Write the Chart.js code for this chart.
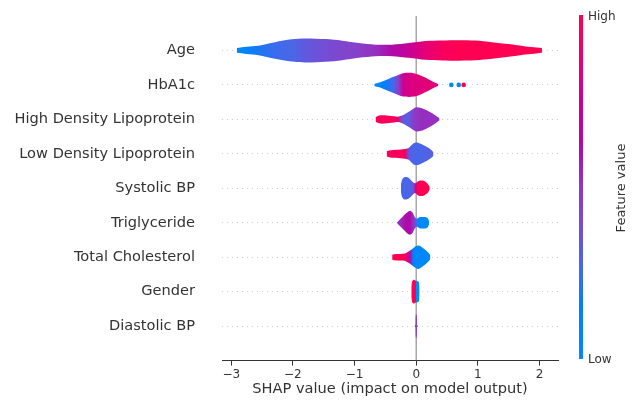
<!DOCTYPE html>
<html lang="en">
<head>
  <meta charset="UTF-8" />
  <title>SHAP violin summary</title>
  <script src="https://cdn.jsdelivr.net/npm/chart.js"></script>
  <style>
    html, body { margin: 0; padding: 0; background: #fff; }
    #wrap { width: 634px; height: 402px; }
  </style>
</head>
<body>
  <div id="wrap"><canvas id="shapChart" width="634" height="402"></canvas></div>

  <script>
    // features, top to bottom
    const features = ['Age', 'HbA1c', 'High Density Lipoprotein', 'Low Density Lipoprotein',
      'Systolic BP', 'Triglyceride', 'Total Cholesterol', 'Gender', 'Diastolic BP'];

    // violin profiles: [shap value, relative density, mean feature value 0..1]
    const ageViolin = [[-2.91, 0.2, 0.02], [-2.75, 0.3, 0.1], [-2.56, 0.39, 0.2], [-2.29, 0.69, 0.25],
      [-2.02, 0.92, 0.28], [-1.8, 1.0, 0.33], [-1.47, 0.94, 0.38], [-1.2, 0.81, 0.42], [-0.93, 0.61, 0.45],
      [-0.66, 0.48, 0.52], [-0.39, 0.48, 0.62], [-0.12, 0.61, 0.72], [0.15, 0.78, 0.85], [0.42, 0.83, 0.95],
      [0.69, 0.85, 1], [0.96, 0.82, 1], [1.23, 0.69, 1], [1.5, 0.53, 1], [1.77, 0.33, 1], [1.95, 0.25, 1],
      [2.04, 0.2, 1]];
    const hba1cViolin = [[-0.68, 0.08, 0.03], [-0.6, 0.2, 0.05], [-0.53, 0.33, 0.12], [-0.45, 0.5, 0.2],
      [-0.37, 0.67, 0.27], [-0.29, 0.83, 0.45], [-0.21, 0.97, 0.75], [-0.12, 1.0, 0.8], [-0.04, 0.97, 0.82],
      [0.04, 0.85, 0.83], [0.12, 0.67, 0.84], [0.19, 0.5, 0.85], [0.25, 0.33, 0.85], [0.31, 0.18, 0.85],
      [0.36, 0.06, 0.85]];
    const hdlViolin = [[-0.66, 0.2, 0.97], [-0.6, 0.33, 0.97], [-0.52, 0.35, 0.97], [-0.44, 0.3, 0.97],
      [-0.36, 0.25, 0.95], [-0.3, 0.22, 0.9], [-0.24, 0.3, 0.4], [-0.18, 0.45, 0.3], [-0.1, 0.7, 0.35],
      [-0.04, 0.9, 0.47], [0.0, 1.0, 0.5], [0.08, 0.95, 0.52], [0.17, 0.75, 0.52], [0.26, 0.5, 0.52],
      [0.33, 0.25, 0.52], [0.38, 0.08, 0.52]];
    const ldlViolin = [[-0.48, 0.22, 0.97], [-0.42, 0.3, 0.97], [-0.33, 0.33, 0.97], [-0.25, 0.37, 0.97],
      [-0.18, 0.4, 0.92], [-0.12, 0.5, 0.35], [-0.07, 0.75, 0.28], [-0.02, 0.92, 0.28], [0.04, 0.9, 0.28],
      [0.12, 0.72, 0.29], [0.2, 0.5, 0.3], [0.25, 0.3, 0.3], [0.28, 0.15, 0.3]];
    const systolicViolin = [[-0.25, 0.25, 0.28], [-0.23, 0.7, 0.28], [-0.2, 0.9, 0.28], [-0.16, 0.93, 0.28],
      [-0.12, 0.85, 0.28], [-0.08, 0.65, 0.3], [-0.04, 0.45, 0.4], [-0.01, 0.42, 0.7], [0.02, 0.55, 1],
      [0.06, 0.64, 1], [0.12, 0.62, 1], [0.17, 0.46, 1], [0.2, 0.28, 1], [0.22, 0.1, 1]];
    const trigViolin = [[-0.31, 0.05, 0.5], [-0.27, 0.25, 0.52], [-0.22, 0.5, 0.56], [-0.16, 0.8, 0.62],
      [-0.1, 1.0, 0.63], [-0.06, 0.85, 0.52], [-0.03, 0.55, 0.47], [0.0, 0.35, 0.3], [0.02, 0.35, 0.03],
      [0.05, 0.45, 0.02], [0.1, 0.47, 0.02], [0.15, 0.47, 0.02], [0.19, 0.35, 0.02], [0.21, 0.1, 0.02]];
    const cholViolin = [[-0.39, 0.2, 1], [-0.33, 0.27, 1], [-0.25, 0.27, 1], [-0.19, 0.3, 0.98],
      [-0.15, 0.4, 0.85], [-0.1, 0.55, 0.62], [-0.05, 0.75, 0.12], [0.0, 0.92, 0.03], [0.04, 0.97, 0.03],
      [0.1, 0.8, 0.03], [0.16, 0.55, 0.03], [0.21, 0.3, 0.03], [0.23, 0.12, 0.03]];
    const genderViolin = [[-0.08, 0.3, 1], [-0.075, 0.65, 1], [-0.065, 0.85, 1], [-0.05, 0.97, 1],
      [-0.03, 0.97, 1], [-0.015, 0.92, 1], [-0.004, 0.9, 1], [0.004, 0.9, 0.02], [0.015, 0.88, 0.02],
      [0.035, 0.85, 0.02], [0.048, 0.7, 0.02], [0.055, 0.3, 0.02]];
    const diastolicViolin = [[-0.015, 0.1, 0.42], [-0.008, 0.95, 0.42], [0.008, 0.95, 0.42], [0.015, 0.1, 0.42]];
    const diastolicHigh = [[-0.025, 0.08, 1], [0.025, 0.08, 1]];
    const violins = [ageViolin, hba1cViolin, hdlViolin, ldlViolin, systolicViolin, trigViolin,
      cholViolin, genderViolin, diastolicViolin];

    // HbA1c outlier points: [shap value, feature value]
    const hba1cOutliers = [[0.57, 0.02], [0.69, 0.04], [0.77, 1]];

    const xTicks = [-3, -2, -1, 0, 1, 2];

    // shap red_blue colormap, approximated
    const cmap = [[0.0, [0, 138, 251]], [0.15, [0, 128, 248]], [0.27, [70, 104, 234]], [0.4, [125, 72, 208]],
      [0.5, [145, 55, 195]], [0.62, [175, 10, 168]], [0.75, [205, 0, 145]], [0.88, [235, 0, 110]],
      [1.0, [255, 0, 82]]];

    function colorAt(t) {
      t = Math.max(0, Math.min(1, t));
      for (let i = 1; i < cmap.length; i++) {
        if (t <= cmap[i][0]) {
          const [t0, c0] = cmap[i - 1], [t1, c1] = cmap[i];
          const f = (t - t0) / (t1 - t0);
          const c = c0.map((v, k) => Math.round(v + (c1[k] - v) * f));
          return `rgb(${c[0]},${c[1]},${c[2]})`;
        }
      }
      return 'rgb(255,0,82)';
    }

    const maxHalf = 0.35;

    function violinFill(points) {
      return (ctx) => {
        const chart = ctx.chart;
        const xs = chart.scales.x;
        if (!chart.chartArea || !xs) return 'rgba(0,0,0,0)';
        const x0 = xs.getPixelForValue(points[0][0]);
        const x1 = xs.getPixelForValue(points[points.length - 1][0]);
        const g = chart.ctx.createLinearGradient(x0, 0, x1, 0);
        points.forEach(p => g.addColorStop((xs.getPixelForValue(p[0]) - x0) / (x1 - x0), colorAt(p[2])));
        return g;
      };
    }

    const datasets = [{
      // zero line behind everything
      data: [{ x: 0, y: -1 }, { x: 0, y: 9 }],
      showLine: true, pointRadius: 0, borderColor: '#999999', borderWidth: 1.3, fill: false, order: 20
    }];

    function addViolin(points, row) {
      const common = { showLine: true, pointRadius: 0, borderWidth: 0, borderColor: 'rgba(0,0,0,0)', tension: 0.3, order: 5 };
      datasets.push(Object.assign({ data: points.map(p => ({ x: p[0], y: row + p[1] * maxHalf })), fill: false }, common));
      datasets.push(Object.assign({ data: points.map(p => ({ x: p[0], y: row - p[1] * maxHalf })), fill: '-1',
        backgroundColor: violinFill(points) }, common));
    }

    features.forEach((name, i) => addViolin(violins[i], features.length - 1 - i));
    addViolin(diastolicHigh, 0);

    datasets.push({
      data: hba1cOutliers.map(p => ({ x: p[0], y: features.length - 2 })),
      pointRadius: 2.3, pointBorderWidth: 0,
      pointBackgroundColor: hba1cOutliers.map(p => colorAt(p[1])), order: 1
    });

    const colorbar = {
      id: 'colorbar',
      afterDraw(chart) {
        const c = chart.ctx;
        const top = 15, bottom = 359, left = 579, w = 4;
        const g = c.createLinearGradient(0, bottom, 0, top);
        cmap.forEach(s => g.addColorStop(s[0], colorAt(s[0])));
        c.save();
        c.fillStyle = g;
        c.fillRect(left, top, w, bottom - top);
        c.fillStyle = '#333333';
        c.font = '12px "DejaVu Sans"';
        c.textAlign = 'left';
        c.textBaseline = 'middle';
        c.fillText('High', 588, top + 2);
        c.fillText('Low', 588, bottom + 1);
        c.translate(622, 188);
        c.rotate(-Math.PI / 2);
        c.textAlign = 'center';
        c.font = '13px "DejaVu Sans"';
        c.fillText('Feature value', 0, 0);
        c.restore();
      }
    };

    const ctx = document.getElementById('shapChart').getContext('2d');
    new Chart(ctx, {
      type: 'scatter',
      data: { datasets },
      options: {
        responsive: false,
        animation: false,
        events: [],
        layout: { padding: { top: 16, right: 76, bottom: 0, left: 0 } },
        plugins: { legend: { display: false }, tooltip: { enabled: false } },
        scales: {
          x: {
            type: 'linear', min: -3.15, max: 2.3,
            afterBuildTicks: axis => { axis.ticks = xTicks.map(v => ({ value: v })); },
            afterFit: axis => { axis.height = 41.4; },
            grid: { drawOnChartArea: false, drawTicks: true, tickLength: 5, tickColor: '#333333' },
            border: { color: '#333333', width: 1 },
            ticks: {
              color: '#333333', padding: 2,
              font: { family: 'DejaVu Sans', size: 12 },
              callback: v => (v < 0 ? '\u2212' + Math.abs(v) : String(v))
            },
            title: {
              display: true, text: 'SHAP value (impact on model output)', color: '#333333',
              font: { family: 'DejaVu Sans', size: 14.6 }, padding: { top: 0, bottom: 4 }
            }
          },
          y: {
            type: 'linear', min: -1, max: 9,
            afterBuildTicks: axis => { axis.ticks = features.map((_, i) => ({ value: i })); },
            afterFit: axis => { axis.width = 222; },
            grid: { color: '#d0d0d0', lineWidth: 1, drawTicks: true, tickLength: 24, tickColor: 'rgba(0,0,0,0)' },
            border: { display: false, dash: [1, 4] },
            ticks: {
              color: '#333333', padding: 3,
              font: { family: 'DejaVu Sans', size: 14.6 },
              callback: v => features[features.length - 1 - v]
            }
          }
        }
      },
      plugins: [colorbar]
    });
  </script>
</body>
</html>
